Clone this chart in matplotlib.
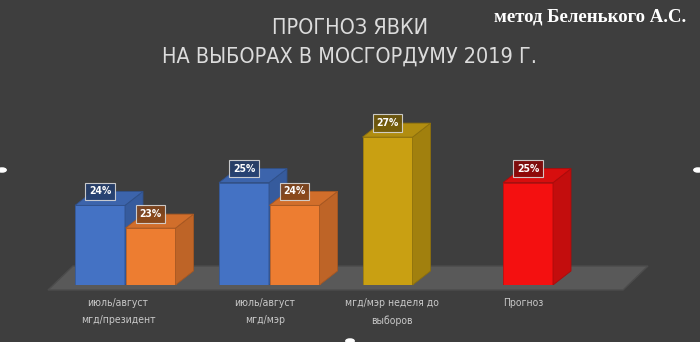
import matplotlib.pyplot as plt
from matplotlib.patches import Polygon
from matplotlib.colors import to_rgb

# data
categories = ["июль/август\nмгд/президент", "июль/август\nмгд/мэр",
              "мгд/мэр неделя до\nвыборов", "Прогноз"]
turnout = [24, 23, 25, 24, 27, 25]
labels = ["24%", "23%", "25%", "24%", "27%", "25%"]
colors = ["#4472c4", "#ed7d31", "#4472c4", "#ed7d31", "#c9a012", "#f41010"]

# layout (pixel-like x, value-like y)
bar_x = [100, 150.5, 244, 294.5, 387.5, 528]
cat_x = [118, 265, 392, 523]
bar_w = 50
base = 20.5
k = 22.75          # pixels per percent
dx, dy = 18, 14 / k
bg = "#3e3e3e"

fig = plt.figure(figsize=(7, 3.42), dpi=100)
fig.patch.set_facecolor(bg)
ax = fig.add_axes([0, 57 / 342, 1, 285 / 342])
ax.set_xlim(0, 700)
ax.set_ylim(base, base + 285 / k)
ax.axis("off")


def shade(c, f):
    r, g, b = to_rgb(c)
    return (r * f, g * f, b * f)


# floor
floor = Polygon([(48, base - 5 / k), (623, base - 5 / k),
                 (648, base + 19 / k), (73, base + 19 / k)],
                closed=True, facecolor="#595959", edgecolor="#4c4c4c",
                lw=1, clip_on=False, zorder=1)
ax.add_patch(floor)

for i, (x, v, c) in enumerate(zip(bar_x, turnout, colors)):
    z = 2 + i
    l, r = x - bar_w / 2, x + bar_w / 2
    ax.bar(x, v - base, bottom=base, width=bar_w, color=c,
           edgecolor=shade(c, 0.8), lw=0.6, zorder=z)
    side = Polygon([(r, base), (r + dx, base + dy), (r + dx, v + dy), (r, v)],
                   facecolor=shade(c, 0.8), edgecolor=shade(c, 0.7), lw=0.6, zorder=z)
    top = Polygon([(l, v), (r, v), (r + dx, v + dy), (l + dx, v + dy)],
                  facecolor=shade(c, 0.88), edgecolor=shade(c, 0.7), lw=0.6, zorder=z)
    ax.add_patch(side)
    ax.add_patch(top)
    ax.text(x, v + 0.62, labels[i], ha="center", va="center", color="white",
            fontsize=7.5, fontweight="bold", fontstretch="condensed",
            zorder=20,
            bbox=dict(boxstyle="square,pad=0.35", facecolor=shade(c, 0.55),
                      edgecolor="#d8d8d8", lw=0.8, alpha=0.9))

for x, name in zip(cat_x, categories):
    fig.text(x / 700, 1 - 298 / 342, name, ha="center", va="top",
             color="#c8c8c8", fontsize=7.5, linespacing=1.9,
             fontstretch="condensed")

fig.text(350 / 700, 1 - 28 / 342, "ПРОГНОЗ ЯВКИ", ha="center", va="center",
         color="#dcdcdc", fontsize=15.5, fontstretch="condensed")
fig.text(350 / 700, 1 - 57 / 342, "НА ВЫБОРАХ В МОСГОРДУМУ 2019 Г.",
         ha="center", va="center", color="#dcdcdc", fontsize=15.5,
         fontstretch="condensed")
fig.text(590 / 700, 1 - 17 / 342, "метод Беленького А.С.", ha="center",
         va="center", color="white", fontsize=13.5, fontweight="bold",
         family="Liberation Serif")

# selection handles
for hx, hy in [(2, 170), (698, 170), (350, 341)]:
    fig.patches.append(plt.Circle((hx / 700, 1 - hy / 342), 0.006,
                                  transform=fig.transFigure, color="white",
                                  clip_on=False))

fig.savefig("out.png", dpi=100, facecolor=bg)
